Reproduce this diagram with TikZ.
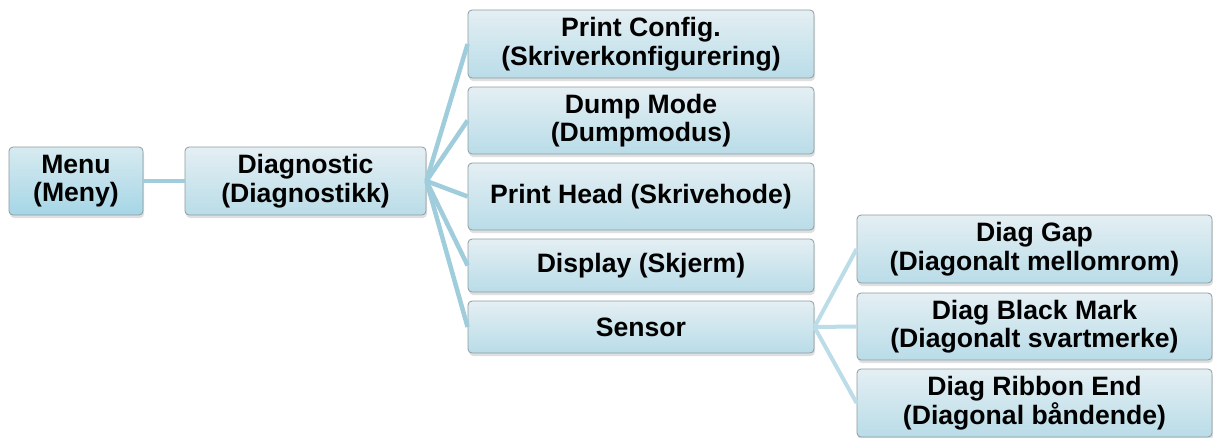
\documentclass[tikz,border=0pt]{standalone}
\usepackage{fontspec}
\setmainfont{Liberation Sans}
\usetikzlibrary{shadows}
\definecolor{lnA}{HTML}{9FCDDC}
\definecolor{lnB}{HTML}{BCDDE8}
\definecolor{bxTop}{HTML}{E4EFF3}
\definecolor{bxBot}{HTML}{B9DCE8}
\definecolor{bxBotM}{HTML}{A5D6E6}
\definecolor{bxEdge}{HTML}{8C9CA2}
\begin{document}
\begin{tikzpicture}[x=1pt,y=-1pt,
  box/.style={draw=bxEdge, line width=0.8pt, rounded corners=4pt,
    top color=bxTop, bottom color=bxBot, align=center, inner sep=0pt,
    font=\fontsize{26.6}{28.5}\selectfont\bfseries,
    drop shadow={opacity=0.25, shadow xshift=1pt, shadow yshift=-3pt}},
  conA/.style={draw=lnA, line width=4.5pt},
  conB/.style={draw=lnB, line width=4pt}]
\useasboundingbox (0,0) rectangle (1213,437);
\node[box, top color=bxTop!80!bxBotM, bottom color=bxBotM, minimum width=134pt, minimum height=68pt] (menu) at (76,181) {Menu\\(Meny)};
\node[box, minimum width=241pt, minimum height=68pt] (diag) at (305.5,181) {Diagnostic\\(Diagnostikk)};
\node[box, minimum width=346pt, minimum height=68pt] (pc) at (641,44) {Print Config.\\(Skriverkonfigurering)};
\node[box, minimum width=346pt, minimum height=67pt] (dm) at (641,120.5) {Dump Mode\\(Dumpmodus)};
\node[box, minimum width=346pt, minimum height=67pt] (ph) at (641,196.5) {Print Head (Skrivehode)};
\node[box, minimum width=346pt, minimum height=53pt] (dp) at (641,265.5) {Display (Skjerm)};
\node[box, minimum width=346pt, minimum height=52pt] (sn) at (641,327) {Sensor};
\node[box, minimum width=355pt, minimum height=68pt] (dg) at (1034.5,249) {Diag Gap\\(Diagonalt mellomrom)};
\node[box, minimum width=355pt, minimum height=67pt] (db) at (1034.5,326.5) {Diag Black Mark\\(Diagonalt svartmerke)};
\node[box, minimum width=355pt, minimum height=68pt] (dr) at (1034.5,403) {Diag Ribbon End\\(Diagonal båndende)};
\draw[conA] (menu.east) -- (diag.west);
\foreach \t in {pc,dm,ph,dp,sn} \draw[conA] (diag.east) -- (\t.west);
\foreach \t in {dg,db,dr} \draw[conB] (sn.east) -- (\t.west);
\end{tikzpicture}
\end{document}
